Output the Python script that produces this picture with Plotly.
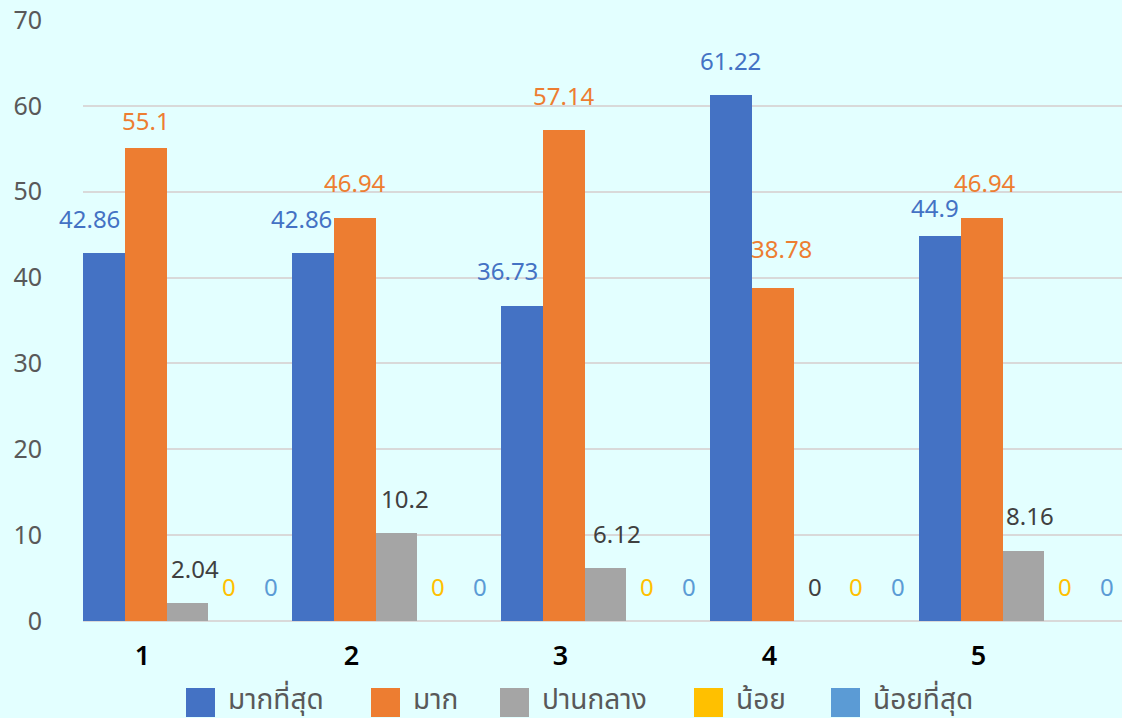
import plotly.graph_objects as go

categories = ["1", "2", "3", "4", "5"]
series_names = ["มากที่สุด", "มาก", "ปานกลาง", "น้อย", "น้อยที่สุด"]
series_colors = ["#4472C4", "#ED7D31", "#A5A5A5", "#FFC000", "#5B9BD5"]
label_colors = ["#4472C4", "#ED7D31", "#404040", "#FFC000", "#5B9BD5"]
v_most = [42.86, 42.86, 36.73, 61.22, 44.9]
v_much = [55.1, 46.94, 57.14, 38.78, 46.94]
v_mid = [2.04, 10.2, 6.12, 0, 8.16]
v_little = [0, 0, 0, 0, 0]
v_least = [0, 0, 0, 0, 0]
y_ticks = [0, 10, 20, 30, 40, 50, 60, 70]

series_values = [v_most, v_much, v_mid, v_little, v_least]

# pixel nudges for some data labels (series index, category index) -> (dx, dy down)
label_nudge = {
    (0, 0): (-14, 0), (1, 0): (0, 8), (2, 0): (7, 0),
    (0, 1): (-11, 0), (2, 1): (8, 0),
    (0, 2): (-14, 0), (2, 2): (11, 0),
    (1, 3): (9, -5),
    (0, 4): (-5, 7), (1, 4): (3, 0), (2, 4): (6, 0),
}

FONT = "Noto Sans, Noto Sans Thai, Loma, Garuda, sans-serif"
BG = "#E3FFFF"

xs = list(range(len(categories)))
n = len(series_names)
fig = go.Figure()
for k, (name, vals, col) in enumerate(zip(series_names, series_values, series_colors)):
    fig.add_trace(go.Bar(x=xs, y=vals, name=name, marker_color=col,
                         marker_line_width=0, showlegend=False))

annotations = []
for k, vals in enumerate(series_values):
    off = (k - (n - 1) / 2) / n
    for i, v in enumerate(vals):
        dx, dy = label_nudge.get((k, i), (0, 0))
        annotations.append(dict(x=i + off, y=v, xref="x", yref="y",
                                text=f"{v:g}", showarrow=False,
                                yshift=35 - dy, xshift=dx,
                                yanchor="middle",
                                font=dict(size=24, color=label_colors[k], family=FONT)))

# custom legend (large square swatches)
leg_sq_x = [186, 371, 500, 694, 831]
W, H = 1122, 718
PL, PT, PB = 83, 20, 97
PH = H - PT - PB
shapes = []
for k, name in enumerate(series_names):
    x0 = leg_sq_x[k]
    shapes.append(dict(type="rect", xref="paper", yref="paper",
                       x0=(x0 - PL) / (W - PL), x1=(x0 + 29 - PL) / (W - PL),
                       y0=-(717 - 621) / PH, y1=-(688 - 621) / PH,
                       fillcolor=series_colors[k], line_width=0))
    annotations.append(dict(x=(x0 + 40 - PL) / (W - PL), y=-(698 - 621) / PH,
                            xref="paper", yref="paper", text=name, showarrow=False,
                            xanchor="left", yanchor="middle",
                            font=dict(size=28, color="#595959", family=FONT)))

fig.update_layout(
    width=W, height=H,
    margin=dict(l=PL, r=0, t=PT, b=PB),
    paper_bgcolor=BG, plot_bgcolor=BG,
    barmode="group", bargap=0, bargroupgap=0,
    showlegend=False,
    annotations=annotations, shapes=shapes,
    font=dict(family=FONT),
)
fig.update_xaxes(range=[-0.5, -0.5 + (W - PL) / 209.0],
                 tickvals=[i - 0.215 for i in xs], ticktext=categories,
                 tickfont=dict(size=27, color="#000000", family=FONT, weight=600),
                 showgrid=False, zeroline=False, ticks="", ticklabelstandoff=16,
                 showline=False)
fig.update_yaxes(range=[0, 70], tickvals=y_ticks,
                 tickfont=dict(size=25, color="#595959", family=FONT),
                 showgrid=True, gridcolor="#D9D9D9", gridwidth=2,
                 zeroline=True, zerolinecolor="#D9D9D9", zerolinewidth=2,
                 ticklabelstandoff=40, ticks="")

fig.write_html("out.html", config={"displayModeBar": False},
               post_script="document.body.style.margin='0px';document.body.style.background='" + BG + "';")
